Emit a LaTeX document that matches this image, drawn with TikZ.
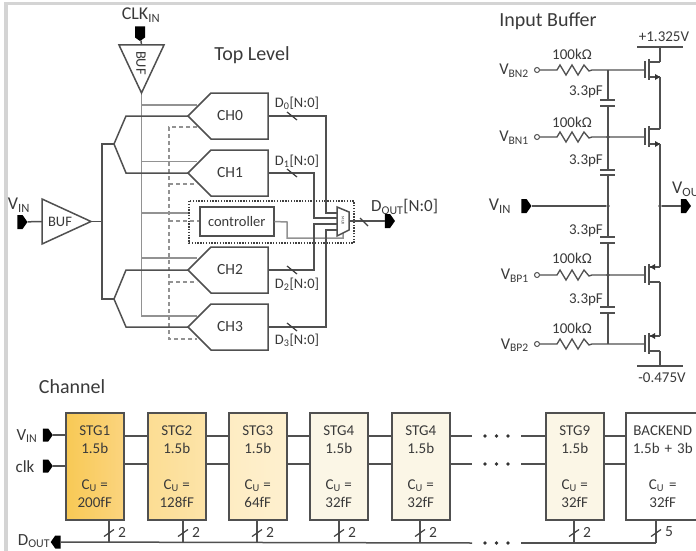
\documentclass[tikz,border=0pt]{standalone}
\usepackage{fontspec}
\setmainfont{Carlito}
\usetikzlibrary{shapes.symbols,calc}
\definecolor{ink}{HTML}{3A3A3A}
\definecolor{wire}{HTML}{505050}
\definecolor{clkwire}{HTML}{929292}
\definecolor{frameg}{HTML}{D4D4D4}
\definecolor{stgA}{HTML}{F8C955}
\definecolor{stgAb}{HTML}{FBD47E}
\definecolor{stgB}{HTML}{FCDD93}
\definecolor{stgC}{HTML}{FEF0CF}
\definecolor{stgD}{HTML}{FBF6E6}
\newcommand{\fsz}[1]{\fontsize{#1}{#1}\selectfont}
\newcommand{\sbs}[1]{\textsubscript{#1}}
\tikzset{
  x=1pt,y=-1pt,
  wr/.style={draw=wire,line width=1.5pt},
  clk/.style={draw=clkwire,line width=1.5pt},
  ctl/.style={draw=clkwire,line width=1.2pt,dash pattern=on 4pt off 3pt},
  pinr/.style={signal,signal to=east,signal from=nowhere,fill=black,draw=none,inner sep=0pt,minimum width=10pt,minimum height=14pt,signal pointer angle=110},
  pinl/.style={pinr,signal to=west},
  pind/.style={pinr,signal to=south,minimum width=10pt,minimum height=11pt},
  lab/.style={text=ink,inner sep=0pt,font=\fsz{14.5}},
  big/.style={text=ink,inner sep=0pt,font=\fsz{18}},
  ttl/.style={text=ink,inner sep=0pt,font=\fsz{20}},
  chbox/.style={draw=wire,line width=1.5pt},
  stg/.style={draw=wire,line width=1.5pt,minimum width=58pt,minimum height=107pt,anchor=north west,align=center,text=ink,inner sep=0pt,font=\fontsize{15}{18}\selectfont},
  dot/.style={circle,fill=wire,inner sep=0pt,minimum size=3.6pt},
  odot/.style={circle,draw=wire,fill=white,line width=1pt,inner sep=0pt,minimum size=5pt},
  sl/.style={draw=black!75,line width=1.2pt},
}
\begin{document}
\begin{tikzpicture}
\useasboundingbox (0,0) rectangle (696,551);
\fill[white] (0,0) rectangle (696,551);
\fill[frameg] (4,2) rectangle (696,5.5);
\fill[frameg] (4,2) rectangle (7.5,551);
% ---------- titles
\node[ttl] (ttop) at (252,55) {Top Level};
\node[ttl] (tbuf) at (548,21) {Input Buffer};
\node[ttl] (tch) at (72,387) {Channel};
% ---------- clock input
\node[big] (lclk) at (141,15) {CLK\sbs{IN}};
\node[pind] (pclk) at (140,32) {};
\coordinate (bufcA) at (119,45);
\coordinate (bufcB) at (164,45);
\coordinate (bufcT) at (141.5,93);
\coordinate (bufcI) at (141.5,45);
\draw[wr] (pclk) -- (bufcI);
% clock tree
\coordinate (cb) at (141.5,316);
\draw[clk] (bufcT) -- (cb) -- (197,316);
\foreach \y/\xe in {105/197,161.5/197,213/189,258/197}
  \draw[clk] (141.5,\y) -- (\xe,\y);
\draw[wr,fill=white] (bufcA) -- (bufcB) -- (bufcT) -- cycle;
\node[lab,rotate=-90] (lbufc) at (141,63) {BUF};
% dashed control
\draw[ctl] (197,127) -- (169,127) -- (169,339) -- (197,339);
\foreach \y/\xe in {184/197,221/199,282/197}
  \draw[ctl] (169,\y) -- (\xe,\y);
% ---------- input buffer (top level)
\node[big] (lvin) at (19,205) {V\sbs{IN}};
\node[pinr] (pvin) at (20,222) {};
\coordinate (tbA) at (42,199);
\coordinate (tbB) at (42,244);
\coordinate (tbT) at (91,221.5);
\coordinate (tbI) at (42,221.5);
\draw[wr] (pvin) -- (tbI);
\draw[wr] (tbA) -- (tbT) -- (tbB) -- cycle;
\node[lab] (lbuf) at (60,221.5) {BUF};
\coordinate (sU) at (114,144);
\coordinate (sL) at (114,299);
\coordinate (sM) at (102,221.5);
\draw[wr] (tbT) -- (sM);
\draw[wr] (sU) -| (sM) |- (sL);
% ---------- channels
\foreach \n/\y in {0/116,1/173,2/270,3/327}{
  \coordinate (ch\n) at (188,\y);
  \draw[chbox,fill=white] (188,\y) -- (211,\y-23) -- (268,\y-23) -- (268,\y+23) -- (211,\y+23) -- cycle;
  \coordinate (cho\n) at (268,\y);
  \node[lab,font=\fsz{15.5}] at (230,\y) {CH\n};
}
\draw[wr] (sU) -- (126,116) -- (ch0);
\draw[wr] (sU) -- (126,173) -- (ch1);
\draw[wr] (sL) -- (126,270) -- (ch2);
\draw[wr] (sL) -- (126,327) -- (ch3);
% ---------- controller + mux
\draw[black!75,line width=1.1pt,dash pattern=on 1.4pt off 1.4pt] (189,201) rectangle (354,243);
\node[chbox,minimum width=74pt,minimum height=29pt,inner sep=0pt,anchor=west,text=ink,font=\fsz{14.5}] (ctrl) at (199,221.5) {controller};
\coordinate (mA) at (337,207);
\coordinate (mB) at (349,212);
\coordinate (mC) at (349,230);
\coordinate (mD) at (337,236);
\coordinate (mO) at (349,221);
\coordinate (mS) at (343,233);
\draw[clk] (ctrl.east) -- (287,222) -- (287,238) -- (343,238) -- (mS);
\draw[wr] (cho0) -- (326,116) -- (326,213) -- (337,213);
\draw[wr] (cho1) -- (314,173) -- (314,218) -- (337,218);
\draw[wr] (cho2) -- (314,270) -- (314,224) -- (337,224);
\draw[wr] (cho3) -- (326,327) -- (326,230) -- (337,230);
\draw[wr,fill=white] (mA) -- (mB) -- (mC) -- (mD) -- cycle;
\node[text=ink,inner sep=0pt,rotate=-90,font=\fsz{4}] at (343,221) {MUX};
\node[pinr] (pdout) at (387.5,221) {};
\draw[wr] (mO) -- (pdout);
\draw[sl] (360,218) -- (368,226);
\node[big,anchor=west,font=\fsz{17}] (ldout) at (371,207) {D\sbs{OUT}[N:0]};
% data labels
\foreach \n/\xx/\yy/\ly in {0/292/116/103,1/292/173/161,2/292/270/284,3/292/327/340}{
  \draw[sl] (\xx-5,\yy-4) -- (\xx+5,\yy+4);
  \node[lab,anchor=center] at (297,\ly) {D\sbs{\n}[N:0]};
}
% ---------- Input Buffer schematic
\coordinate (gtop) at (608,70);
\coordinate (gbot) at (608,344);
\draw[wr] (gtop) -- (608,100);
\draw[wr] (608,106) -- (608,170);
\draw[wr] (608,175) -- (608,237);
\draw[wr] (608,243) -- (608,307);
\draw[wr] (608,313) -- (gbot);
\foreach \y in {100,106,170,175,237,243,307,313}
  \draw[wr] (600,\y) -- (615,\y);
\foreach \y/\l/\ly in {70/BN2/54,137/BN1/122,275/BP1/258,344/BP2/328}{
  \node[odot] (c\l) at (537,\y) {};
  \node[big,anchor=east,font=\fsz{16.5}] (v\l) at (529,\y+1) {V\sbs{\l}};
  \node[lab,font=\fsz{15}] (r\l) at (572,\ly) {100kΩ};
  \draw[wr,line width=1.3pt] (c\l) -- (557,\y) -- (560,\y-5) -- (566,\y+5) -- (572,\y-5) -- (578,\y+5) -- (584,\y-5) -- (589,\y+1) -- (592,\y) -- (645,\y);
}
\foreach \y in {92,161,231,300}
  \node[lab,font=\fsz{15}] at (586,\y) {3.3pF};
% VIN of the buffer
\node[big] (lvi2) at (500,206) {V\sbs{IN}};
\node[pinr] (pvi2) at (524,206) {};
\node[dot] (nvi) at (608,206) {};
\draw[wr] (pvi2) -- (nvi);
\node[dot] at (608,137) {};
\node[dot] at (608,275) {};
% transistors
\foreach \y in {70,137,275,344}{
  \draw[wr] (645,\y-9) -- (645,\y+8);
  \draw[wr] (649,\y-11) -- (649,\y+10);
}
\foreach \y in {70,137}{
  \draw[wr] (649,\y-8) -- (660,\y-8);
  \draw[wr] (649,\y+7) -- (660,\y+7);
  \fill[black!80] (660,\y+7) -- (655,\y+4) -- (655,\y+10) -- cycle;
}
\foreach \y in {275,344}{
  \draw[wr] (649,\y-8) -- (660,\y-8);
  \draw[wr] (649,\y+7) -- (660,\y+7);
  \fill[black!80] (650,\y-8) -- (655,\y-11) -- (655,\y-5) -- cycle;
}
\coordinate (vdd) at (660,47);
\coordinate (vss) at (660,366);
\draw[wr] (vdd) -- (660,62);
\draw[wr] (660,77) -- (660,129);
\draw[wr] (660,144) -- (660,267);
\draw[wr] (660,282) -- (660,336);
\draw[wr] (660,351) -- (vss);
\draw[wr] (637,47) -- (683,47);
\draw[wr] (637,366) -- (683,366);
\node[lab,font=\fsz{15}] (lvdd) at (664,37) {+1.325V};
\node[lab,font=\fsz{15}] (lvss) at (662,378) {-0.475V};
\node[dot] (nvo) at (660,206) {};
\node[pinr] (pvo) at (683.5,206) {};
\draw[wr] (nvo) -- (pvo);
\node[big,anchor=west] (lvo) at (672,189) {V\sbs{OUT}};
% ---------- Channel
\node[stg,left color=stgA,right color=stgAb] (s1) at (65,412) {STG1\\1.5b\\[18pt]C\sbs{U} =\\200fF};
\node[stg,left color=stgB,right color=stgB!80!white] (s2) at (147,412) {STG2\\1.5b\\[18pt]C\sbs{U} =\\128fF};
\node[stg,left color=stgC!80!stgB,right color=stgC] (s3) at (228,412) {STG3\\1.5b\\[18pt]C\sbs{U} =\\64fF};
\node[stg,fill=stgD] (s4) at (309,412) {STG4\\1.5b\\[18pt]C\sbs{U} =\\32fF};
\node[stg,fill=stgD] (s5) at (391,412) {STG4\\1.5b\\[18pt]C\sbs{U} =\\32fF};
\node[stg,fill=stgD] (s9) at (545,412) {STG9\\1.5b\\[18pt]C\sbs{U} =\\32fF};
\node[stg,fill=white,minimum width=74pt,text width=66pt] (sb) at (625,412) {BACKEND\\1.5b + 3b\\[18pt]C\sbs{U} =\\32fF};
\node[big,font=\fsz{17}] (lv) at (27,436) {V\sbs{IN}};
\node[big,font=\fsz{17}] (lc) at (25,467) {clk};
\node[big,font=\fsz{17}] (ld) at (34,541) {D\sbs{OUT}};
\node[pinr,minimum height=13pt] (pv) at (45.5,435) {};
\node[pinr,minimum height=13pt] (pc) at (45.5,466) {};
\node[pinl,minimum height=13pt] (pd) at (58,542) {};
\draw[wr] (pv) -- (s1.west |- pv);
\draw[wr] (pc) -- (s1.west |- pc);
\foreach \a/\b in {s1/s2,s2/s3,s3/s4,s4/s5,s9/sb}{
  \draw[wr] (\a.east |- 0,436) -- (\b.west |- 0,436);
  \draw[wr] (\a.east |- 0,464) -- (\b.west |- 0,464);
}
\coordinate (br1) at (472,436);\coordinate (br2) at (521,436);
\coordinate (br3) at (472,464);\coordinate (br4) at (521,464);
\coordinate (br5) at (472,543);\coordinate (br6) at (521,543);
\coordinate (bend) at (656,543);
\draw[wr] (s5.east |- br1) -- (br1);
\draw[wr] (br2) -- (s9.west |- br2);
\draw[wr] (s5.east |- br3) -- (br3);
\draw[wr] (br4) -- (s9.west |- br4);
\draw[wr] (pd) -- (br5);
\draw[wr] (br6) -- (bend);
\foreach \y in {436,464,543}
  \foreach \x in {485,496.5,508}
    \fill[black!80] (\x,\y) circle (1.8);
\foreach \n/\x/\t in {s1/109/2,s2/183/2,s3/257/2,s4/339/2,s5/420/2,s9/574/2,sb/656/5}{
  \draw[wr] (\x,519) -- (\x,543);
  \draw[sl] (\x-5,536.5) -- (\x+5,529.5);
  \node[lab,font=\fsz{15.5}] at (\x+13,532) {\t};
}
\end{tikzpicture}
\end{document}
